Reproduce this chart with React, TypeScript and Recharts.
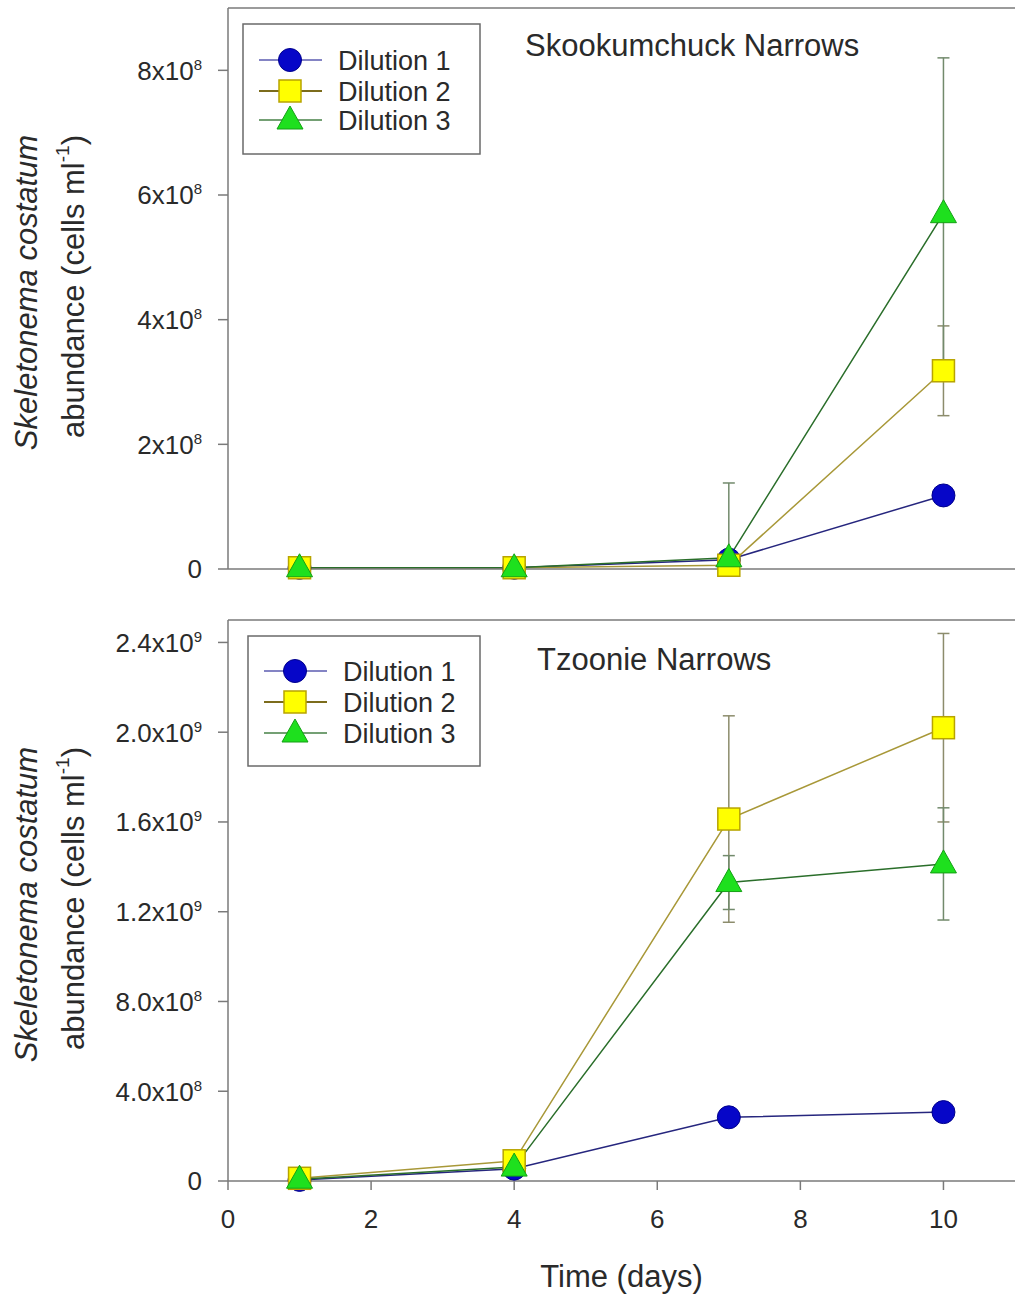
import React from 'react'
import { LineChart, Line, XAxis, YAxis, ErrorBar, ReferenceLine } from 'recharts'

const FONT = 'Arial, "Liberation Sans", Helvetica, sans-serif'
const AXIS = '#7a7a7a'
const INK = '#2a2a2a'

const days = [1, 4, 7, 10]
const dayTicks = [0, 2, 4, 6, 8, 10]
const seriesNames = ['Dilution 1', 'Dilution 2', 'Dilution 3']

// Skookumchuck Narrows (cells ml-1)
const skDilution1 = [2e6, 2e6, 1.5e7, 1.18e8]
const skDilution2 = [2e6, 2e6, 6e6, 3.18e8]
const skDilution3 = [2e6, 2e6, 1.8e7, 5.7e8]
const skError2 = [0, 0, 0, 0.72e8]
const skError3 = [0, 0, 1.2e8, 2.5e8]
const skTicks = [0, 2e8, 4e8, 6e8, 8e8]
const skTickLabels = ['0', '2x10^8', '4x10^8', '6x10^8', '8x10^8']

// Tzoonie Narrows (cells ml-1)
const tzDilution1 = [5e6, 5.5e7, 2.84e8, 3.07e8]
const tzDilution2 = [1.2e7, 9e7, 1.613e9, 2.02e9]
const tzDilution3 = [8e6, 6.2e7, 1.33e9, 1.413e9]
const tzError2 = [0, 0, 4.6e8, 4.2e8]
const tzError3 = [0, 0, 1.2e8, 2.5e8]
const tzTicks = [0, 4e8, 8e8, 1.2e9, 1.6e9, 2.0e9, 2.4e9]
const tzTickLabels = ['0', '4.0x10^8', '8.0x10^8', '1.2x10^9', '1.6x10^9', '2.0x10^9', '2.4x10^9']

const PLOT_TOP = 8
const PLOT_H = 561

const circleDot = (p: any) => (
  <circle key={`c${p.index}`} cx={p.cx} cy={p.cy} r={11.5} fill="#0606C8" stroke="#00008C" strokeWidth={1} />
)
const squareDot = (p: any) => (
  <rect key={`s${p.index}`} x={p.cx - 11} y={p.cy - 11} width={22} height={22} fill="#FFFF00" stroke="#B8A400" strokeWidth={1.5} />
)
const triangleDot = (p: any) => (
  <polygon
    key={`t${p.index}`}
    points={`${p.cx},${p.cy - 14} ${p.cx - 13},${p.cy + 9} ${p.cx + 13},${p.cy + 9}`}
    fill="#1EE01E"
    stroke="#14A014"
    strokeWidth={1}
  />
)

const makeYTick = (labels: string[]) => (props: any) => {
  const { x, y, index } = props
  const [base, exp] = labels[index].split('^')
  return (
    <text x={x} y={y} dy="0.36em" textAnchor="end" fontSize={26} fill={INK} fontFamily={FONT}>
      {base}
      {exp && (
        <tspan dy={-10} fontSize={15}>
          {exp}
        </tspan>
      )}
    </text>
  )
}

const YTitle = () => {
  const cy = PLOT_TOP + PLOT_H / 2
  return (
    <g fontFamily={FONT} fontSize={31} fill={INK}>
      <text transform={`translate(26, ${cy + 4}) rotate(-90)`} textAnchor="middle" dominantBaseline="central" fontStyle="italic">
        Skeletonema costatum
      </text>
      <text transform={`translate(73, ${cy - 2}) rotate(-90)`} textAnchor="middle" dominantBaseline="central">
        abundance (cells ml
        <tspan dy={-11} fontSize={19}>-1</tspan>
        <tspan dy={11}>)</tspan>
      </text>
    </g>
  )
}

type PanelProps = {
  d1: number[]
  d2: number[]
  d3: number[]
  e2: number[]
  e3: number[]
  yMax: number
  yTicks: number[]
  yLabels: string[]
  height: number
  xAxisHeight: number
  bottom?: boolean
}

const Panel = ({ d1, d2, d3, e2, e3, yMax, yTicks, yLabels, height, xAxisHeight, bottom }: PanelProps) => {
  const data = days.map((day, i) => ({
    day,
    d1: d1[i],
    d2: d2[i],
    d3: d3[i],
    e2: [Math.min(e2[i], d2[i]), e2[i]],
    e3: [Math.min(e3[i], d3[i]), e3[i]],
  }))
  return (
    <LineChart width={1015} height={height} data={data} margin={{ top: PLOT_TOP, right: 0, bottom: 0, left: 0 }}>
      <XAxis
        dataKey="day"
        type="number"
        domain={[0, 11]}
        ticks={dayTicks}
        interval={0}
        height={xAxisHeight}
        tickSize={bottom ? 9 : 8}
        tickMargin={20}
        axisLine={{ stroke: AXIS, strokeWidth: 1.5 }}
        tickLine={{ stroke: AXIS, strokeWidth: 1.5 }}
        tick={bottom ? { fontSize: 26, fill: INK, fontFamily: FONT } : false}
        label={bottom ? { value: 'Time (days)', position: 'insideBottom', offset: 12, fontSize: 31, fill: INK, fontFamily: FONT } : undefined}
      />
      <YAxis
        type="number"
        domain={[0, yMax]}
        ticks={yTicks}
        interval={0}
        width={228}
        tickSize={10}
        tickMargin={16}
        axisLine={{ stroke: AXIS, strokeWidth: 1.5 }}
        tickLine={{ stroke: AXIS, strokeWidth: 1.5 }}
        tick={makeYTick(yLabels)}
        label={{ content: () => <YTitle /> }}
      />
      <ReferenceLine y={yMax} stroke={AXIS} strokeWidth={1.5} />
      <Line dataKey="d1" name={seriesNames[0]} stroke="#26267e" strokeWidth={1.5} dot={circleDot} activeDot={false} isAnimationActive={false} />
      <Line dataKey="d2" name={seriesNames[1]} stroke="#a89838" strokeWidth={1.5} dot={squareDot} activeDot={false} isAnimationActive={false}>
        <ErrorBar dataKey="e2" direction="y" width={6} stroke="#8c8c6c" strokeWidth={1.5} isAnimationActive={false} />
      </Line>
      <Line dataKey="d3" name={seriesNames[2]} stroke="#2a6e2a" strokeWidth={1.5} dot={triangleDot} activeDot={false} isAnimationActive={false}>
        <ErrorBar dataKey="e3" direction="y" width={6} stroke="#728a6c" strokeWidth={1.5} isAnimationActive={false} />
      </Line>
    </LineChart>
  )
}

const legendLines = ['#8484c4', '#7c6c1c', '#74a074']
const legendDots = [circleDot, squareDot, triangleDot]

const LegendBox = ({ x, y, w, h, rows }: { x: number; y: number; w: number; h: number; rows: number[] }) => (
  <g>
    <rect x={x} y={y} width={w} height={h} fill="#fff" stroke="#6a6a6a" strokeWidth={1.5} />
    {seriesNames.map((name, i) => {
      const cy = y + rows[i]
      const cx = x + 47
      return (
        <g key={name}>
          <line x1={x + 16} x2={x + 79} y1={cy} y2={cy} stroke={legendLines[i]} strokeWidth={2} />
          {legendDots[i]({ cx, cy, index: i })}
          <text x={x + 95} y={cy + 9.5} fontSize={27} fill={INK} fontFamily={FONT}>
            {name}
          </text>
        </g>
      )
    })}
  </g>
)

export default function App() {
  return (
    <div style={{ position: 'relative', width: 1015, height: 1299, overflow: 'hidden', background: '#fff' }}>
      <style>{'body{margin:0}'}</style>
      <div style={{ position: 'absolute', left: 0, top: 0 }}>
        <Panel d1={skDilution1} d2={skDilution2} d3={skDilution3} e2={skError2} e3={skError3} yMax={9e8} yTicks={skTicks} yLabels={skTickLabels} height={600} xAxisHeight={31} />
      </div>
      <div style={{ position: 'absolute', left: 0, top: 612 }}>
        <Panel d1={tzDilution1} d2={tzDilution2} d3={tzDilution3} e2={tzError2} e3={tzError3} yMax={2.5e9} yTicks={tzTicks} yLabels={tzTickLabels} height={687} xAxisHeight={118} bottom />
      </div>
      <svg width={1015} height={1299} style={{ position: 'absolute', left: 0, top: 0, pointerEvents: 'none' }}>
        <LegendBox x={243} y={24} w={237} h={130} rows={[36, 67, 96]} />
        <text x={525} y={56} fontSize={31} fill={INK} fontFamily={FONT}>
          Skookumchuck Narrows
        </text>
        <LegendBox x={248} y={636} w={232} h={130} rows={[35, 66, 97]} />
        <text x={537} y={670} fontSize={31} fill={INK} fontFamily={FONT}>
          Tzoonie Narrows
        </text>
      </svg>
    </div>
  )
}
